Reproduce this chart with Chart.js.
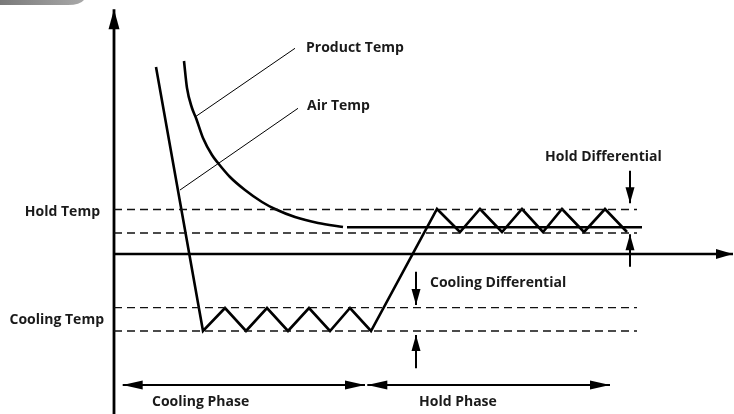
<!DOCTYPE html>
<html>
<head>
<meta charset="utf-8">
<script src="https://cdn.jsdelivr.net/npm/chart.js@4.4.1/dist/chart.umd.min.js"></script>
<style>
  html, body { margin: 0; padding: 0; background: #fff; }
  #wrap { width: 734px; height: 414px; }
</style>
</head>
<body>
<div id="wrap"><canvas id="chart" width="734" height="414"></canvas></div>
<script>
// time runs left to right from the temperature axis, temperature is measured from the time axis
const airTime = [42, 89, 111, 132, 153, 174, 195, 216, 236, 257, 323, 346, 366, 388, 408, 429, 448, 470, 491, 513];
const airTemp = [187, -77, -54, -77, -54, -77, -54, -77, -54, -77, 45, 22, 45, 22, 45, 22, 45, 22, 45, 22];

const productTime = [70, 73, 78, 82, 89, 98, 104, 116, 131, 148, 161, 181, 204, 229];
const productTemp = [193, 166, 146, 136, 116, 99, 91, 77, 64, 52, 45, 37, 31, 27];
const productHoldTime = [233, 528];
const productHoldTemp = [26.7, 26.7];

// set points: hold band and cooling band
const holdTempHigh = 44.5;
const holdTempLow = 21;
const coolTempHigh = -53.7;
const coolTempLow = -77;
const bandEnd = 523;

const labels = ['Product Temp', 'Air Temp', 'Hold Differential', 'Cooling Differential',
  'Hold Temp', 'Cooling Temp', 'Cooling Phase', 'Hold Phase'];
const labelTime = [192, 193, 431, 316, -14, -10, 38, 305];
const labelTemp = [206, 148, 97, -29, 42, -66, -148, -148];

// leader lines from label to curve
const leaderProduct = { time: [81, 181], temp: [137, 205.7] };
const leaderAir = { time: [66, 184], temp: [64, 145.7] };

const ink = '#000';

function pts(xs, ys) {
  return xs.map((x, i) => ({ x, y: ys[i] }));
}

function line(xs, ys, extra) {
  return Object.assign({
    data: pts(xs, ys),
    showLine: true,
    borderColor: ink,
    borderWidth: 2.6,
    pointRadius: 0,
    fill: false,
    tension: 0,
  }, extra || {});
}

function dashed(y) {
  return line([0, bandEnd], [y, y], { borderWidth: 1.3, borderDash: [8, 5], borderColor: '#111' });
}

const datasets = [
  dashed(holdTempHigh),
  dashed(holdTempLow),
  dashed(coolTempHigh),
  dashed(coolTempLow),
  // axes
  line([0, 0], [-160, 244.7], { borderWidth: 2.8, arrow: { end: true, len: 20, width: 11 } }),
  line([0, 619], [0, 0], { borderWidth: 2.6, arrow: { end: true, len: 17, width: 10 } }),
  // curves
  line(airTime, airTemp),
  line(productTime, productTemp, { cubicInterpolationMode: 'monotone' }),
  line(productHoldTime, productHoldTemp),
  line(leaderProduct.time, leaderProduct.temp, { borderWidth: 1 }),
  line(leaderAir.time, leaderAir.temp, { borderWidth: 1 }),
  // differential arrows
  line([516, 516], [83.3, 50.7], { borderWidth: 2, arrow: { end: true, len: 16, width: 9 } }),
  line([516, 516], [-12.7, 19.7], { borderWidth: 2, arrow: { end: true, len: 16, width: 9 } }),
  line([302, 302], [-17.7, -51], { borderWidth: 2, arrow: { end: true, len: 16, width: 9 } }),
  line([302, 302], [-114.3, -81], { borderWidth: 2, arrow: { end: true, len: 16, width: 9 } }),
  // phase arrows
  line([8.7, 251], [-131, -131], { borderWidth: 2.2, arrow: { start: true, end: true, len: 20, width: 9 } }),
  line([253.3, 496], [-131, -131], { borderWidth: 2.2, arrow: { start: true, end: true, len: 20, width: 9 } }),
];

function head(ctx, tip, from, len, width) {
  const a = Math.atan2(tip.y - from.y, tip.x - from.x);
  ctx.save();
  ctx.translate(tip.x, tip.y);
  ctx.rotate(a);
  ctx.beginPath();
  ctx.moveTo(0, 0);
  ctx.lineTo(-len, width / 2);
  ctx.lineTo(-len, -width / 2);
  ctx.closePath();
  ctx.fillStyle = ink;
  ctx.fill();
  ctx.restore();
}

const arrowPlugin = {
  id: 'arrowHeads',
  afterDatasetsDraw(chart) {
    const ctx = chart.ctx;
    chart.data.datasets.forEach((ds, i) => {
      if (!ds.arrow) return;
      const p = chart.getDatasetMeta(i).data;
      const n = p.length;
      if (ds.arrow.end) head(ctx, p[n - 1], p[n - 2], ds.arrow.len, ds.arrow.width);
      if (ds.arrow.start) head(ctx, p[0], p[1], ds.arrow.len, ds.arrow.width);
    });
  }
};

const textPlugin = {
  id: 'labels',
  beforeDraw(chart) {
    // grey tab in the top left corner
    const ctx = chart.ctx;
    const g = ctx.createLinearGradient(0, 0, 84, 0);
    g.addColorStop(0, '#7a7a7a');
    g.addColorStop(1, '#a8a8a8');
    ctx.save();
    ctx.fillStyle = g;
    ctx.beginPath();
    ctx.moveTo(0, 0);
    ctx.lineTo(84, 0);
    ctx.quadraticCurveTo(80, 5, 68, 5);
    ctx.lineTo(0, 5);
    ctx.closePath();
    ctx.fill();
    ctx.restore();
  },
  afterDraw(chart) {
    const ctx = chart.ctx;
    const sx = chart.scales.x, sy = chart.scales.y;
    ctx.save();
    ctx.fillStyle = '#1a1a1a';
    ctx.font = 'bold 14px "Open Sans", sans-serif';
    ctx.textBaseline = 'middle';
    labels.forEach((t, i) => {
      ctx.textAlign = labelTime[i] < 0 ? 'right' : 'left';
      ctx.fillText(t, sx.getPixelForValue(labelTime[i]), sy.getPixelForValue(labelTemp[i]));
    });
    ctx.restore();
  }
};

new Chart(document.getElementById('chart'), {
  type: 'scatter',
  data: { datasets },
  options: {
    responsive: false,
    animation: false,
    devicePixelRatio: 1,
    layout: { padding: 0 },
    scales: {
      x: { type: 'linear', min: -114, max: 620, display: false },
      y: { type: 'linear', min: -160, max: 254, display: false },
    },
    plugins: {
      legend: { display: false },
      tooltip: { enabled: false },
    },
    elements: { line: { borderCapStyle: 'butt' } },
  },
  plugins: [arrowPlugin, textPlugin],
});
</script>
</body>
</html>
